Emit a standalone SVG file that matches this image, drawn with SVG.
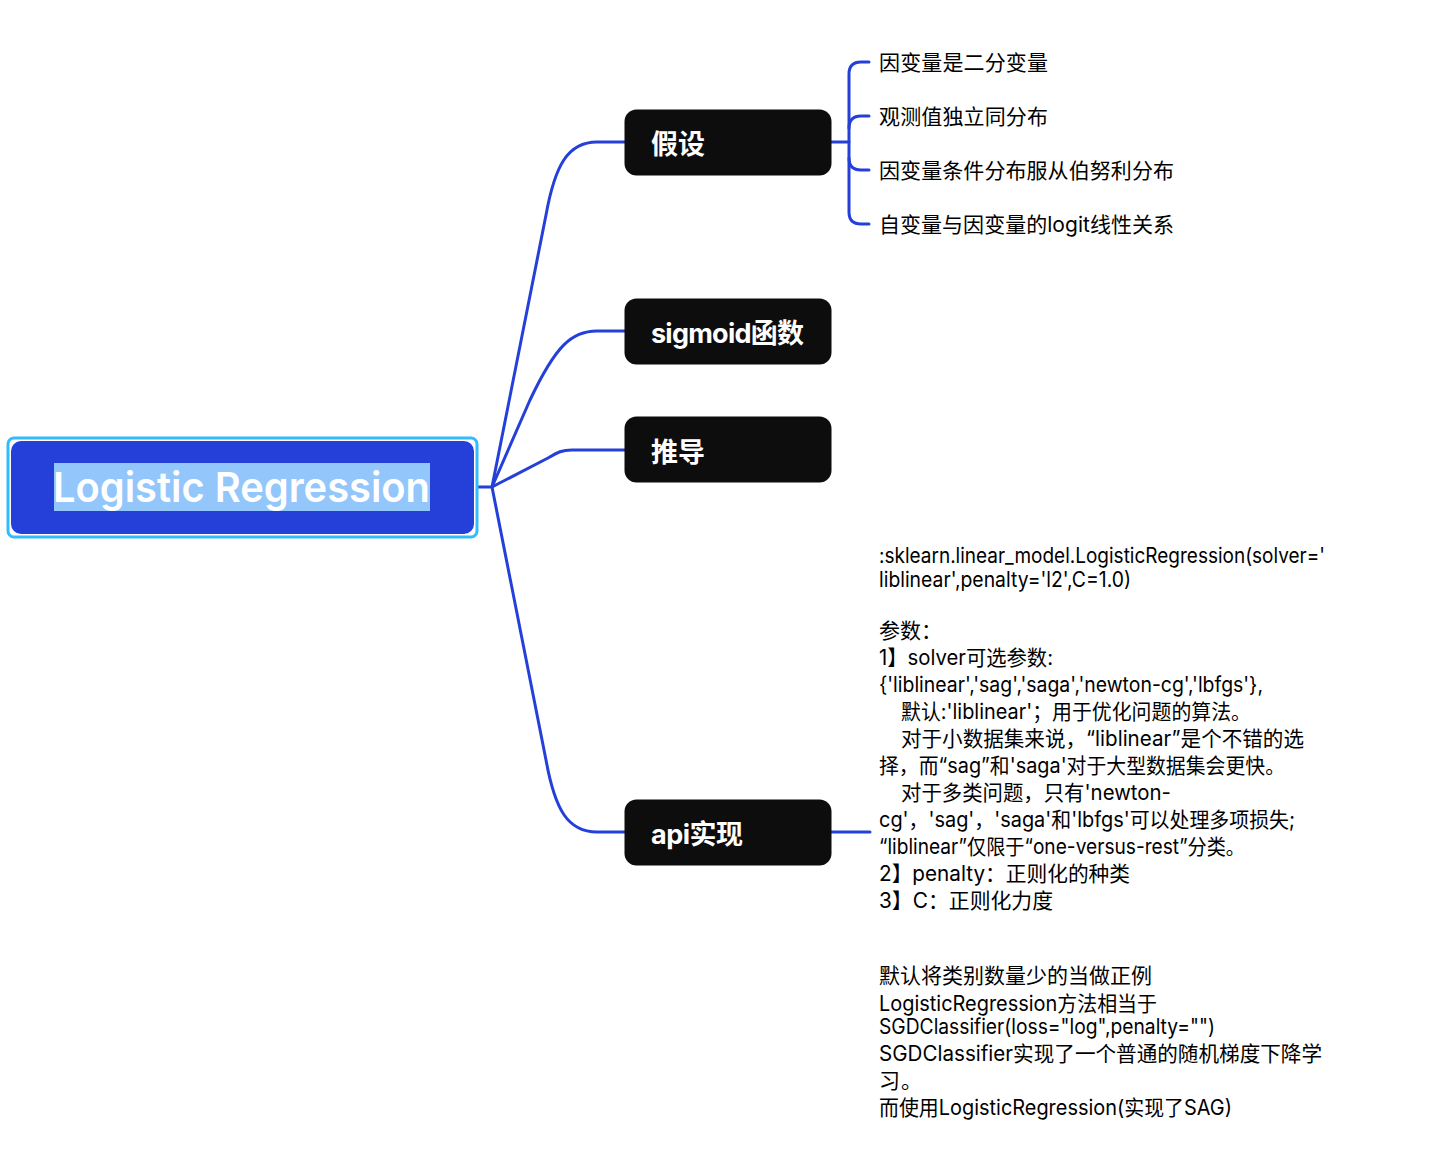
<svg xmlns="http://www.w3.org/2000/svg" width="1435" height="1155" viewBox="0 0 1435 1155">
<style>
text{font-family:"Inter","Noto Sans CJK SC","Noto Sans",sans-serif}
.t{font-size:21px;fill:#000;font-weight:400}
.b{fill:#0d0d0d}
.n{font-size:27px;font-weight:700;fill:#fff}
.c{fill:none;stroke:#2440d8;stroke-width:3;stroke-linecap:round;stroke-linejoin:round}
</style>
<rect width="1435" height="1155" fill="#fff"/>
<g id="connectors">
<path class="c" d="M474 487H492"/>
<path class="c" d="M492 487L546 215C555 165 568 142 597 142H625"/>
<path class="c" d="M492 487L530 400C556 345 572 331 597 331H625"/>
<path class="c" d="M492 487L548 458C558 452 562 450 572 450H625"/>
<path class="c" d="M492 487L546 760C555 810 568 832 597 832H625"/>
<path class="c" d="M831 142H849"/>
<path class="c" d="M869 62H861Q849 62 849 74V212Q849 224 861 224H869"/>
<path class="c" d="M869 116H861Q849 116 849 128"/>
<path class="c" d="M849 158Q849 170 861 170H869"/>
<path class="c" d="M831 832H870"/>
</g>
<g id="root">
<rect x="8" y="438" width="469" height="99" rx="6" fill="#fff" stroke="#33bbff" stroke-width="3"/>
<rect x="11" y="441" width="463" height="93" rx="10" fill="#2440d8"/>
<rect x="54" y="463" width="376" height="48" fill="#93c7fb"/>
<text x="53" y="502" font-size="41" font-weight="600" fill="#fff" textLength="377" lengthAdjust="spacingAndGlyphs">Logistic Regression</text>
</g>
<g id="node-jiashe"><rect class="b" x="624.5" y="109.5" width="207" height="66" rx="12"/><text class="n" x="651" y="154">假设</text></g>
<g id="node-sigmoid"><rect class="b" x="624.5" y="298.5" width="207" height="66" rx="12"/><text class="n" x="651" y="343" textLength="153">sigmoid函数</text></g>
<g id="node-tuidao"><rect class="b" x="624.5" y="416.5" width="207" height="66" rx="12"/><text class="n" x="651" y="462">推导</text></g>
<g id="node-api"><rect class="b" x="624.5" y="799.5" width="207" height="66" rx="12"/><text class="n" x="651" y="844" textLength="92">api实现</text></g>
<g id="leaf-1"><text class="t" x="879" y="70" textLength="169">因变量是二分变量</text></g>
<g id="leaf-2"><text class="t" x="879" y="124" textLength="169">观测值独立同分布</text></g>
<g id="leaf-3"><text class="t" x="879" y="178" textLength="295">因变量条件分布服从伯努利分布</text></g>
<g id="leaf-4"><text class="t" x="879" y="232" textLength="295">自变量与因变量的logit线性关系</text></g>
<g id="leaf-api">
<text class="t" x="879" y="563" textLength="446" lengthAdjust="spacingAndGlyphs">:sklearn.linear_model.LogisticRegression(solver='</text>
<text class="t" x="879" y="587" textLength="252" lengthAdjust="spacingAndGlyphs">liblinear',penalty='l2',C=1.0)</text>
<text class="t" x="879" y="638">参数：</text>
<text class="t" x="879" y="665" textLength="174" lengthAdjust="spacingAndGlyphs">1】solver可选参数:</text>
<text class="t" x="879" y="692" textLength="384" lengthAdjust="spacingAndGlyphs">{'liblinear','sag','saga','newton-cg','lbfgs'},</text>
<text class="t" x="901" y="719" textLength="350" lengthAdjust="spacingAndGlyphs">默认:'liblinear'；用于优化问题的算法。</text>
<text class="t" x="901" y="746" textLength="403" lengthAdjust="spacingAndGlyphs">对于小数据集来说，“liblinear”是个不错的选</text>
<text class="t" x="879" y="773" textLength="406" lengthAdjust="spacingAndGlyphs">择，而“sag”和'saga'对于大型数据集会更快。</text>
<text class="t" x="901" y="800" textLength="270" lengthAdjust="spacingAndGlyphs">对于多类问题，只有'newton-</text>
<text class="t" x="879" y="827" textLength="416" lengthAdjust="spacingAndGlyphs">cg'，'sag'，'saga'和'lbfgs'可以处理多项损失;</text>
<text class="t" x="879" y="854" textLength="366" lengthAdjust="spacingAndGlyphs">“liblinear”仅限于“one-versus-rest”分类。</text>
<text class="t" x="879" y="881" textLength="251" lengthAdjust="spacingAndGlyphs">2】penalty：正则化的种类</text>
<text class="t" x="879" y="908" textLength="174" lengthAdjust="spacingAndGlyphs">3】C：正则化力度</text>
<text class="t" x="879" y="983" textLength="273">默认将类别数量少的当做正例</text>
<text class="t" x="879" y="1011" textLength="278" lengthAdjust="spacingAndGlyphs">LogisticRegression方法相当于</text>
<text class="t" x="879" y="1034" textLength="336" lengthAdjust="spacingAndGlyphs">SGDClassifier(loss="log",penalty="")</text>
<text class="t" x="879" y="1061" textLength="443" lengthAdjust="spacingAndGlyphs">SGDClassifier实现了一个普通的随机梯度下降学</text>
<text class="t" x="879" y="1088" textLength="43">习。</text>
<text class="t" x="879" y="1115" textLength="353" lengthAdjust="spacingAndGlyphs">而使用LogisticRegression(实现了SAG)</text>
</g>
</svg>
